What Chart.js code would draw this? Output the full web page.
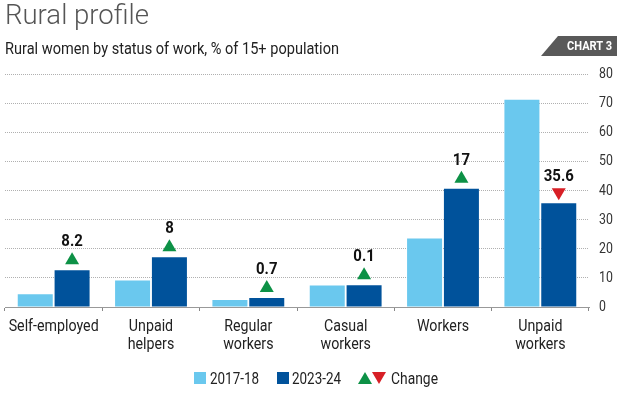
<!DOCTYPE html>
<html>
<head>
<meta charset="utf-8">
<script src="https://cdn.jsdelivr.net/npm/chart.js@4"></script>
<style>
  body { margin: 0; background: #fff; }
  #wrap { position: relative; width: 624px; height: 394px; overflow: hidden; font-family: Roboto, sans-serif; }
  canvas { position: absolute; left: 0; top: 0; }
  .txt { position: absolute; white-space: nowrap; line-height: 1; transform-origin: left top; }
  #title { left: 5px; top: 2px; font-weight: 300; font-size: 27px; color: #555; }
  #subtitle { left: 5px; top: 40px; font-size: 17px; color: #222; }
  #badge { position: absolute; left: 541px; top: 36px; width: 76px; height: 20px; background: #595959; clip-path: polygon(17px 0, 100% 0, 100% 100%, 0 100%); }
  #badgeText { left: 567px; top: 40px; font-size: 12px; font-weight: bold; color: #fff; }
  .sw { position: absolute; width: 12px; height: 12px; top: 372px; }
  .leg { top: 371px; font-size: 16px; color: #222; }
  .tri { position: absolute; width: 0; height: 0; border-left: 7px solid transparent; border-right: 7px solid transparent; }
  .up { border-bottom: 12px solid #0d9146; top: 372px; }
  .down { border-top: 12px solid #d71f26; top: 372px; }
</style>
</head>
<body>
<div id="wrap">
  <canvas id="chart" width="624" height="394"></canvas>
  <div id="title" class="txt" data-w="144">Rural profile</div>
  <div id="subtitle" class="txt" data-w="334">Rural women by status of work, % of 15+ population</div>
  <div id="badge"></div>
  <div id="badgeText" class="txt" data-w="45">CHART 3</div>
  <div class="sw" style="left:194px;background:#6ac8ee"></div>
  <div class="txt leg" style="left:210px" data-w="49">2017-18</div>
  <div class="sw" style="left:277px;background:#00529b"></div>
  <div class="txt leg" style="left:292px" data-w="49">2023-24</div>
  <div class="tri up" style="left:358px"></div>
  <div class="tri down" style="left:372px"></div>
  <div class="txt leg" style="left:391px" data-w="47">Change</div>
</div>
<script>
const categories = [['Self-employed'], ['Unpaid', 'helpers'], ['Regular', 'workers'], ['Casual', 'workers'], ['Workers'], ['Unpaid', 'workers']];
const values2017 = [4.4, 9.1, 2.4, 7.4, 23.5, 71.2];
const values2023 = [12.6, 17.1, 3.1, 7.5, 40.6, 35.6];
const changes = [8.2, 8, 0.7, 0.1, 17, -35.6];
const yTicks = [0, 10, 20, 30, 40, 50, 60, 70, 80];

const FONT = 'Roboto, sans-serif';

// squeeze html text to the width it has in the original
document.querySelectorAll('.txt[data-w]').forEach(el => {
  const w = +el.dataset.w;
  el.style.transform = 'scaleX(' + (w / el.getBoundingClientRect().width) + ')';
});

// axis labels drawn by hand so they can be narrowed like the original condensed face
const axisLabels = {
  id: 'axisLabels',
  afterDraw(chart) {
    const ctx = chart.ctx;
    const xs = chart.scales.x;
    const ys = chart.scales.y;
    ctx.save();
    ctx.fillStyle = '#222';
    ctx.font = '16px ' + FONT;
    const squeeze = 90 / ctx.measureText('Self-employed').width;
    ctx.textAlign = 'center';
    ctx.textBaseline = 'alphabetic';
    categories.forEach((lines, i) => {
      const x = xs.getPixelForValue(i);
      lines.forEach((t, j) => {
        ctx.save();
        ctx.translate(x, 331 + j * 17.5);
        ctx.scale(squeeze, 1);
        ctx.fillText(t, 0, 0);
        ctx.restore();
      });
    });
    ctx.font = '14px ' + FONT;
    ctx.fillStyle = '#333';
    ctx.textAlign = 'left';
    ctx.textBaseline = 'middle';
    yTicks.forEach(v => {
      ctx.save();
      ctx.translate(ys.right - 25, ys.getPixelForValue(v) + 0.5);
      ctx.scale(0.88, 1);
      ctx.fillText(String(v), 0, 0);
      ctx.restore();
    });
    ctx.restore();
  }
};

// triangles + change labels sitting on top of the 2023-24 bars
const changeMarks = {
  id: 'changeMarks',
  afterDatasetsDraw(chart) {
    const ctx = chart.ctx;
    const meta = chart.getDatasetMeta(1);
    meta.data.forEach((bar, i) => {
      const c = changes[i];
      const x = bar.x;
      const top = bar.y;
      ctx.save();
      ctx.beginPath();
      if (c >= 0) {
        ctx.fillStyle = '#0d9146';
        ctx.moveTo(x - 7, top - 6);
        ctx.lineTo(x + 7, top - 6);
        ctx.lineTo(x, top - 18);
      } else {
        ctx.fillStyle = '#d71f26';
        ctx.moveTo(x - 7, top - 15);
        ctx.lineTo(x + 7, top - 15);
        ctx.lineTo(x, top - 3);
      }
      ctx.closePath();
      ctx.fill();
      ctx.fillStyle = '#111';
      ctx.font = 'bold 17px ' + FONT;
      ctx.textAlign = 'center';
      ctx.textBaseline = 'alphabetic';
      ctx.translate(x, c >= 0 ? top - 24 : top - 22);
      ctx.scale(0.88, 1);
      ctx.fillText(String(Math.abs(c)), 0, 0);
      ctx.restore();
    });
  }
};

new Chart(document.getElementById('chart'), {
  type: 'bar',
  data: {
    labels: categories,
    datasets: [
      { label: '2017-18', data: values2017, backgroundColor: '#6ac8ee' },
      { label: '2023-24', data: values2023, backgroundColor: '#00529b' }
    ]
  },
  options: {
    responsive: false,
    animation: false,
    layout: { padding: { left: 5, right: 0, top: 74, bottom: 0 } },
    datasets: { bar: { categoryPercentage: 0.757, barPercentage: 0.95 } },
    plugins: { legend: { display: false }, tooltip: { enabled: false } },
    scales: {
      x: {
        grid: { offset: true, drawOnChartArea: false, drawTicks: true, tickLength: 4, color: '#888' },
        border: { display: true, color: '#999', width: 1 },
        ticks: { display: false },
        afterFit(scale) { scale.height = 87; }
      },
      y: {
        position: 'right',
        min: 0,
        max: 80,
        afterBuildTicks(scale) { scale.ticks = yTicks.map(v => ({ value: v })); },
        grid: { color: '#b0b0b0', drawTicks: false },
        border: { display: false, dash: [1, 1] },
        ticks: { display: false },
        afterFit(scale) { scale.width = 35; }
      }
    }
  },
  plugins: [changeMarks, axisLabels]
});
</script>
</body>
</html>
